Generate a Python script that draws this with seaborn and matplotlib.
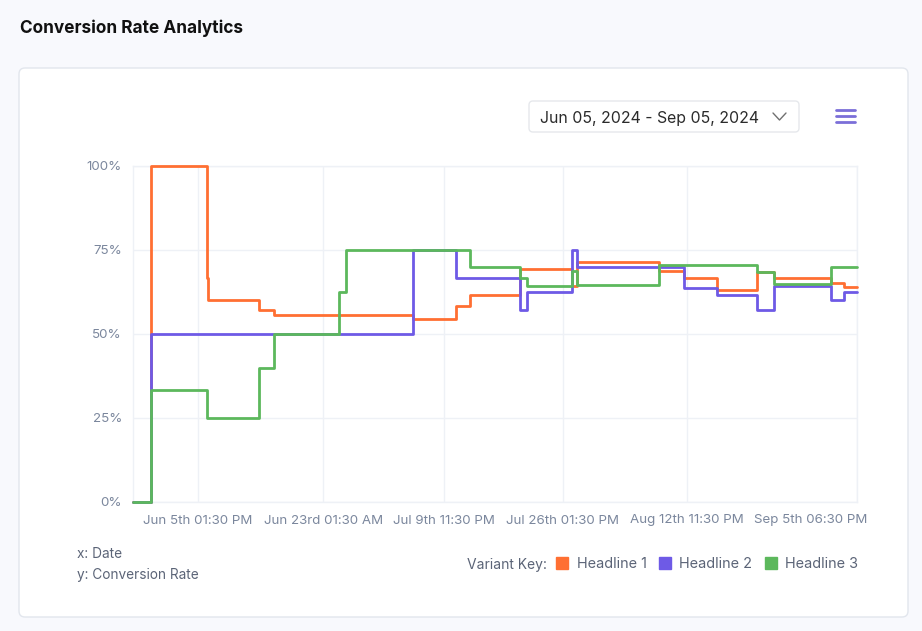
import matplotlib
matplotlib.use("Agg")
import matplotlib.pyplot as plt
from matplotlib.patches import FancyBboxPatch
from matplotlib.lines import Line2D
from matplotlib.transforms import ScaledTranslation
import seaborn as sns
import pandas as pd

# ---------------- data ----------------
variants = ["Headline 1", "Headline 2", "Headline 3"]
colors = ["#FF6F32", "#6E5AE6", "#5CB85C"]

h1_times = ["2024-05-27 11:00", "2024-05-30 01:00", "2024-06-06 20:00", "2024-06-06 23:00",
            "2024-06-14 03:30", "2024-06-16 05:00", "2024-07-05 17:00", "2024-07-11 16:30",
            "2024-07-13 14:00", "2024-07-20 15:30", "2024-07-27 21:00", "2024-07-28 15:00",
            "2024-08-09 02:30", "2024-08-12 14:30", "2024-08-17 03:00", "2024-08-22 19:00",
            "2024-08-25 04:00", "2024-09-02 03:30", "2024-09-03 22:00", "2024-09-05 18:30"]
h1_rates = [0, 100, 66.67, 60, 57.14, 55.56, 54.55, 58.33, 61.54, 69.23, 64.29, 71.43,
            68.75, 66.67, 63.16, 68.42, 66.67, 65.22, 64.0, 64.0]

h2_times = ["2024-05-27 11:00", "2024-05-30 01:00", "2024-07-05 17:00", "2024-07-11 16:30",
            "2024-07-20 15:30", "2024-07-21 15:00", "2024-07-27 21:00", "2024-07-28 15:00",
            "2024-08-12 14:30", "2024-08-17 03:00", "2024-08-22 19:00", "2024-08-25 04:00",
            "2024-09-02 03:30", "2024-09-03 22:00", "2024-09-05 18:30"]
h2_rates = [0, 50, 75, 66.67, 57.14, 62.5, 75, 70, 63.64, 61.54, 57.14, 64.29, 60, 62.5, 62.5]

h3_times = ["2024-05-27 11:00", "2024-05-30 01:00", "2024-06-06 20:00", "2024-06-14 03:30",
            "2024-06-16 05:00", "2024-06-25 07:00", "2024-06-26 07:00", "2024-07-13 14:00",
            "2024-07-20 15:30", "2024-07-21 15:00", "2024-07-27 21:00", "2024-07-28 15:00",
            "2024-08-09 02:30", "2024-08-22 19:00", "2024-08-25 04:00", "2024-09-02 03:30",
            "2024-09-05 18:30"]
h3_rates = [0, 33.33, 25, 40, 50, 62.5, 75, 70, 66.67, 64.29, 68.75, 64.71, 70.59,
            68.42, 65, 70, 70]

tick_times = ["2024-06-05 13:30", "2024-06-23 01:30", "2024-07-09 23:30",
              "2024-07-26 13:30", "2024-08-12 23:30", "2024-09-05 18:30"]
tick_labels = ["Jun 5th 01:30 PM", "Jun 23rd 01:30 AM", "Jul 9th 11:30 PM",
               "Jul 26th 01:30 PM", "Aug 12th 11:30 PM", "Sep 5th 06:30 PM"]
y_ticks = [0, 25, 50, 75, 100]
y_labels = ["0%", "25%", "50%", "75%", "100%"]

frames = []
for name, t, r in [(variants[0], h1_times, h1_rates),
                   (variants[1], h2_times, h2_rates),
                   (variants[2], h3_times, h3_rates)]:
    frames.append(pd.DataFrame({"date": pd.to_datetime(t), "rate": r, "variant": name}))
df = pd.concat(frames, ignore_index=True)

# ---------------- figure ----------------
sns.set_theme(style="white")
plt.rcParams["font.family"] = ["Inter", "DejaVu Sans"]

W, H = 922, 631
fig = plt.figure(figsize=(W / 100, H / 100), dpi=100)
fig.patch.set_facecolor("#F8F9FD")

# pixel-coordinate overlay for card/header decorations
bg = fig.add_axes([0, 0, 1, 1], zorder=-1)
bg.set_xlim(0, W)
bg.set_ylim(H, 0)
bg.axis("off")
bg.patch.set_visible(False)

bg.add_patch(FancyBboxPatch((19, 68), 889, 549, boxstyle="round,pad=0,rounding_size=6",
                            facecolor="white", edgecolor="#E2E6ED", linewidth=1))
bg.text(20, 28, "Conversion Rate Analytics", fontsize=12.4, fontweight="bold",
        color="#111111", ha="left", va="center")

bg.add_patch(FancyBboxPatch((529, 101), 270, 31, boxstyle="round,pad=0,rounding_size=4",
                            facecolor="white", edgecolor="#E6E8EC", linewidth=1))
bg.text(540, 118.5, "Jun 05, 2024 - Sep 05, 2024", fontsize=11.4, color="#2B2B2B",
        ha="left", va="center")
bg.add_line(Line2D([773, 779.5, 786], [113, 120, 113], color="#707070", lw=1))
for yy in (110, 116, 122):
    bg.add_line(Line2D([836, 855], [yy, yy], color="#7B6FD8", lw=2, solid_capstyle="round"))

bg.text(77, 553.5, "x: Date", fontsize=9.8, color="#5B6477", ha="left", va="center")
bg.text(77, 574.5, "y: Conversion Rate", fontsize=9.8, color="#5B6477", ha="left", va="center")
bg.text(467, 564.5, "Variant Key:", fontsize=10, color="#5B6477", ha="left", va="center")

# ---------------- main axes ----------------
ax = fig.add_axes([133 / W, 1 - 502 / H, (857 - 133) / W, (502 - 166) / H])
ax.patch.set_visible(False)
sns.lineplot(data=df, x="date", y="rate", hue="variant", hue_order=variants,
             palette=colors, estimator=None, drawstyle="steps-post",
             linewidth=2, legend=False, ax=ax)
for ln in ax.get_lines():
    ln.set_clip_on(False)
    ln.set_zorder(3)

ax.set_xlim(pd.Timestamp(h1_times[0]), pd.Timestamp(h1_times[-1]))
ax.set_ylim(0, 100)
ax.set_xlabel("")
ax.set_ylabel("")
ax.set_yticks(y_ticks)
ax.set_yticklabels(y_labels)
ax.set_xticks(pd.to_datetime(tick_times))
ax.set_xticklabels(tick_labels)
ax.tick_params(axis="both", length=0, labelsize=9.6, labelcolor="#7B879D")
ax.tick_params(axis="x", pad=9)
ax.tick_params(axis="y", pad=8)
ax.grid(True, color="#EEF1F6", linewidth=1)
ax.set_axisbelow(True)
for s in ax.spines.values():
    s.set_color("#EEF1F6")
    s.set_linewidth(1)
    s.set_zorder(1)

# shift last x label left so it fits in the card
lbls = ax.get_xticklabels()
lbls[-1].set_transform(lbls[-1].get_transform() + ScaledTranslation(-0.46, 0, fig.dpi_scale_trans))

handles = [Line2D([], [], marker="s", linestyle="", markersize=9, color=c) for c in colors]
fig.legend(handles, variants, loc="center right", bbox_to_anchor=(858 / W, 1 - 564 / H),
           ncol=3, frameon=False, fontsize=10.4, labelcolor="#5B6477",
           borderpad=0, borderaxespad=0,
           handletextpad=0.5, columnspacing=0.76, handlelength=1.0)

fig.savefig("out.png", dpi=100, facecolor=fig.get_facecolor())
